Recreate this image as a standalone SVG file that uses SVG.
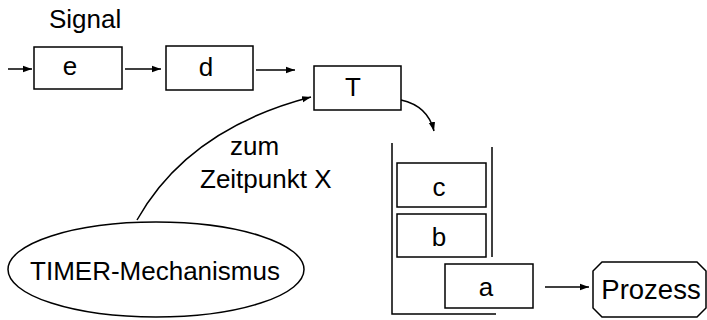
<svg xmlns="http://www.w3.org/2000/svg" width="707" height="320" viewBox="0 0 707 320">
<defs>
<marker id="ah" markerWidth="10" markerHeight="8" refX="9" refY="4" orient="auto" markerUnits="userSpaceOnUse">
<path d="M0,0.8 L9,4 L0,7.2 Z" fill="#000"/>
</marker>
</defs>
<style>
.box{fill:#fff;stroke:#000;stroke-width:1.5}
.ln{fill:none;stroke:#000;stroke-width:1.5}
.t{font-family:"Liberation Sans",Arial,sans-serif;font-size:26px;fill:#000}
.c{text-anchor:middle}
</style>
<rect width="707" height="320" fill="#fff"/>
<text class="t" x="49" y="28">Signal</text>
<g id="connectors">
<line class="ln" x1="8" y1="69" x2="32" y2="69" marker-end="url(#ah)"/>
<line class="ln" x1="125" y1="69" x2="161" y2="69" marker-end="url(#ah)"/>
<line class="ln" x1="256" y1="70" x2="295" y2="70" marker-end="url(#ah)"/>
<path class="ln" d="M137,220 C165,170 215,122 311,97" marker-end="url(#ah)"/>
<path class="ln" d="M401,100 Q428,106 434,131" marker-end="url(#ah)"/>
<line class="ln" x1="545" y1="287" x2="589" y2="287" marker-end="url(#ah)"/>
</g>
<g id="node-e"><rect class="box" x="34" y="47" width="88" height="42"/><text class="t c" x="70" y="75">e</text></g>
<g id="node-d"><rect class="box" x="166" y="46" width="87" height="44"/><text class="t c" x="206" y="76">d</text></g>
<g id="node-T"><rect class="box" x="314" y="66" width="87" height="44"/><text class="t c" x="353" y="96">T</text></g>
<g id="label-zeit"><text class="t" x="230" y="155">zum</text><text class="t" x="200" y="188">Zeitpunkt X</text></g>
<g id="node-timer"><ellipse class="box" cx="156" cy="269.5" rx="148" ry="47.5"/><text class="t c" x="155" y="280">TIMER-Mechanismus</text></g>
<g id="queue">
<path class="ln" d="M392,143 V314 H496"/>
<line class="ln" x1="492" y1="147" x2="492" y2="257"/>
</g>
<g id="node-c"><rect class="box" x="397" y="163" width="89" height="44"/><text class="t c" x="439" y="196">c</text></g>
<g id="node-b"><rect class="box" x="397" y="214" width="89" height="43"/><text class="t c" x="439" y="246">b</text></g>
<g id="node-a"><rect class="box" x="445" y="264" width="88" height="44"/><text class="t c" x="486" y="296">a</text></g>
<g id="node-prozess"><path class="box" d="M602,262 H697 L706,271 V308 L697,317 H602 L593,308 V271 Z"/><text class="t c" x="651" y="299" style="font-size:27.5px">Prozess</text></g>
</svg>
